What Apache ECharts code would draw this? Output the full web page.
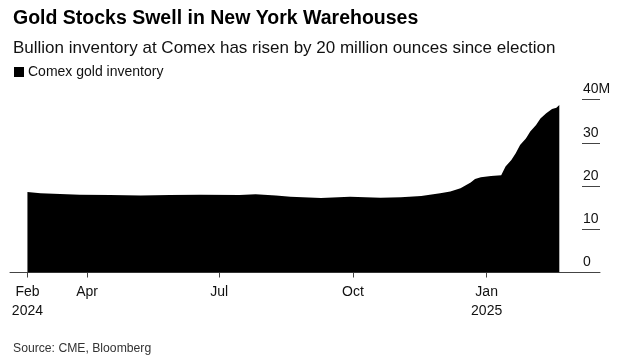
<!DOCTYPE html>
<html>
<head>
<meta charset="utf-8">
<script src="https://cdn.jsdelivr.net/npm/echarts@6/dist/echarts.min.js"></script>
<style>
  html, body { margin: 0; padding: 0; background: #fff; }
  #chart { width: 624px; height: 364px; }
</style>
</head>
<body>
<div id="chart"></div>
<script>
const titleText = 'Gold Stocks Swell in New York Warehouses';
const subtitleText = 'Bullion inventory at Comex has risen by 20 million ounces since election';
const seriesName = 'Comex gold inventory';
const sourceText = 'Source: CME, Bloomberg';

const dates = ['2024-02-20','2024-02-29','2024-03-27','2024-04-17','2024-05-08','2024-05-28','2024-06-18','2024-07-15','2024-07-26','2024-08-09','2024-08-19','2024-09-09','2024-09-29','2024-10-20','2024-11-03','2024-11-17','2024-11-30','2024-12-07','2024-12-14','2024-12-21','2024-12-24','2024-12-28','2025-01-04','2025-01-11','2025-01-14','2025-01-18','2025-01-21','2025-01-24','2025-01-28','2025-01-31','2025-02-04','2025-02-07','2025-02-11','2025-02-15','2025-02-18','2025-02-20'];
const values = [18.6,18.3,18.0,17.9,17.8,17.9,18.0,17.9,18.1,17.8,17.5,17.2,17.5,17.3,17.4,17.7,18.3,18.7,19.5,20.8,21.6,22.0,22.3,22.5,24.5,26.0,27.6,29.5,31.0,32.6,34.1,35.6,36.8,37.8,38.1,38.7];

const xTickDates = ['2024-02-20','2024-04-01','2024-07-01','2024-10-01','2025-01-01'];
const xTickLabels = ['Feb\n2024','Apr','Jul','Oct','Jan\n2025'];
const yTicks = [0, 10, 20, 30, 40];
const yTickLabels = ['0', '10', '20', '30', '40M'];

// day number (UTC) for each date string
const t = s => Date.UTC(+s.slice(0, 4), +s.slice(5, 7) - 1, +s.slice(8, 10)) / 86400000;
const xTickVals = xTickDates.map(t);

const chart = echarts.init(document.getElementById('chart'), null, { renderer: 'canvas' });
chart.setOption({
  animation: false,
  backgroundColor: '#fff',
  textStyle: { fontFamily: 'Liberation Sans' },
  title: [
    { text: titleText, left: 8, top: 4, textStyle: { fontSize: 19.5, fontWeight: 'bold', color: '#000', fontFamily: 'Liberation Sans' } },
    { text: subtitleText, left: 8, top: 35, textStyle: { fontSize: 17, fontWeight: 'normal', color: '#111', fontFamily: 'Liberation Sans' } },
    { text: sourceText, left: 8, top: 338, textStyle: { fontSize: 12.2, fontWeight: 'normal', color: '#333', fontFamily: 'Liberation Sans' } }
  ],
  legend: {
    left: 9, top: 60, icon: 'rect', itemWidth: 10, itemHeight: 10, itemGap: 8,
    textStyle: { fontSize: 14, color: '#111', fontFamily: 'Liberation Sans', padding: [0, 0, 0, -1] },
    data: [seriesName]
  },
  grid: { left: 10, right: 24, top: 99.5, bottom: 91.5, containLabel: false },
  xAxis: {
    type: 'value',
    min: t('2024-02-08'),
    max: t('2025-03-20'),
    axisLine: { show: true, onZero: false, lineStyle: { color: '#444', width: 1 } },
    axisTick: { show: true, customValues: xTickVals, length: 5, lineStyle: { color: '#444' } },
    axisLabel: {
      customValues: xTickVals,
      fontSize: 14, lineHeight: 19, color: '#111', margin: 10,
      formatter: v => { const i = xTickVals.indexOf(v); return i >= 0 ? xTickLabels[i] : ''; }
    },
    splitLine: { show: false }
  },
  yAxis: {
    type: 'value', position: 'right', min: 0, max: 40, interval: 10,
    axisLine: { show: false },
    axisTick: { show: true, inside: true, length: 18, lineStyle: { color: '#444', width: 1 } },
    axisLabel: {
      inside: true, align: 'left', verticalAlign: 'bottom', margin: 17,
      fontSize: 14, color: '#111', padding: [0, 0, 3, 0],
      formatter: v => { const i = yTicks.indexOf(v); return i >= 0 ? yTickLabels[i] : ''; }
    },
    splitLine: { show: false }
  },
  series: [{
    name: seriesName, type: 'line',
    data: dates.map((d, i) => [t(d), values[i]]),
    showSymbol: false, smooth: false,
    itemStyle: { color: '#000' },
    lineStyle: { width: 0, color: '#000' },
    areaStyle: { color: '#000', opacity: 1 }
  }]
});
</script>
</body>
</html>
